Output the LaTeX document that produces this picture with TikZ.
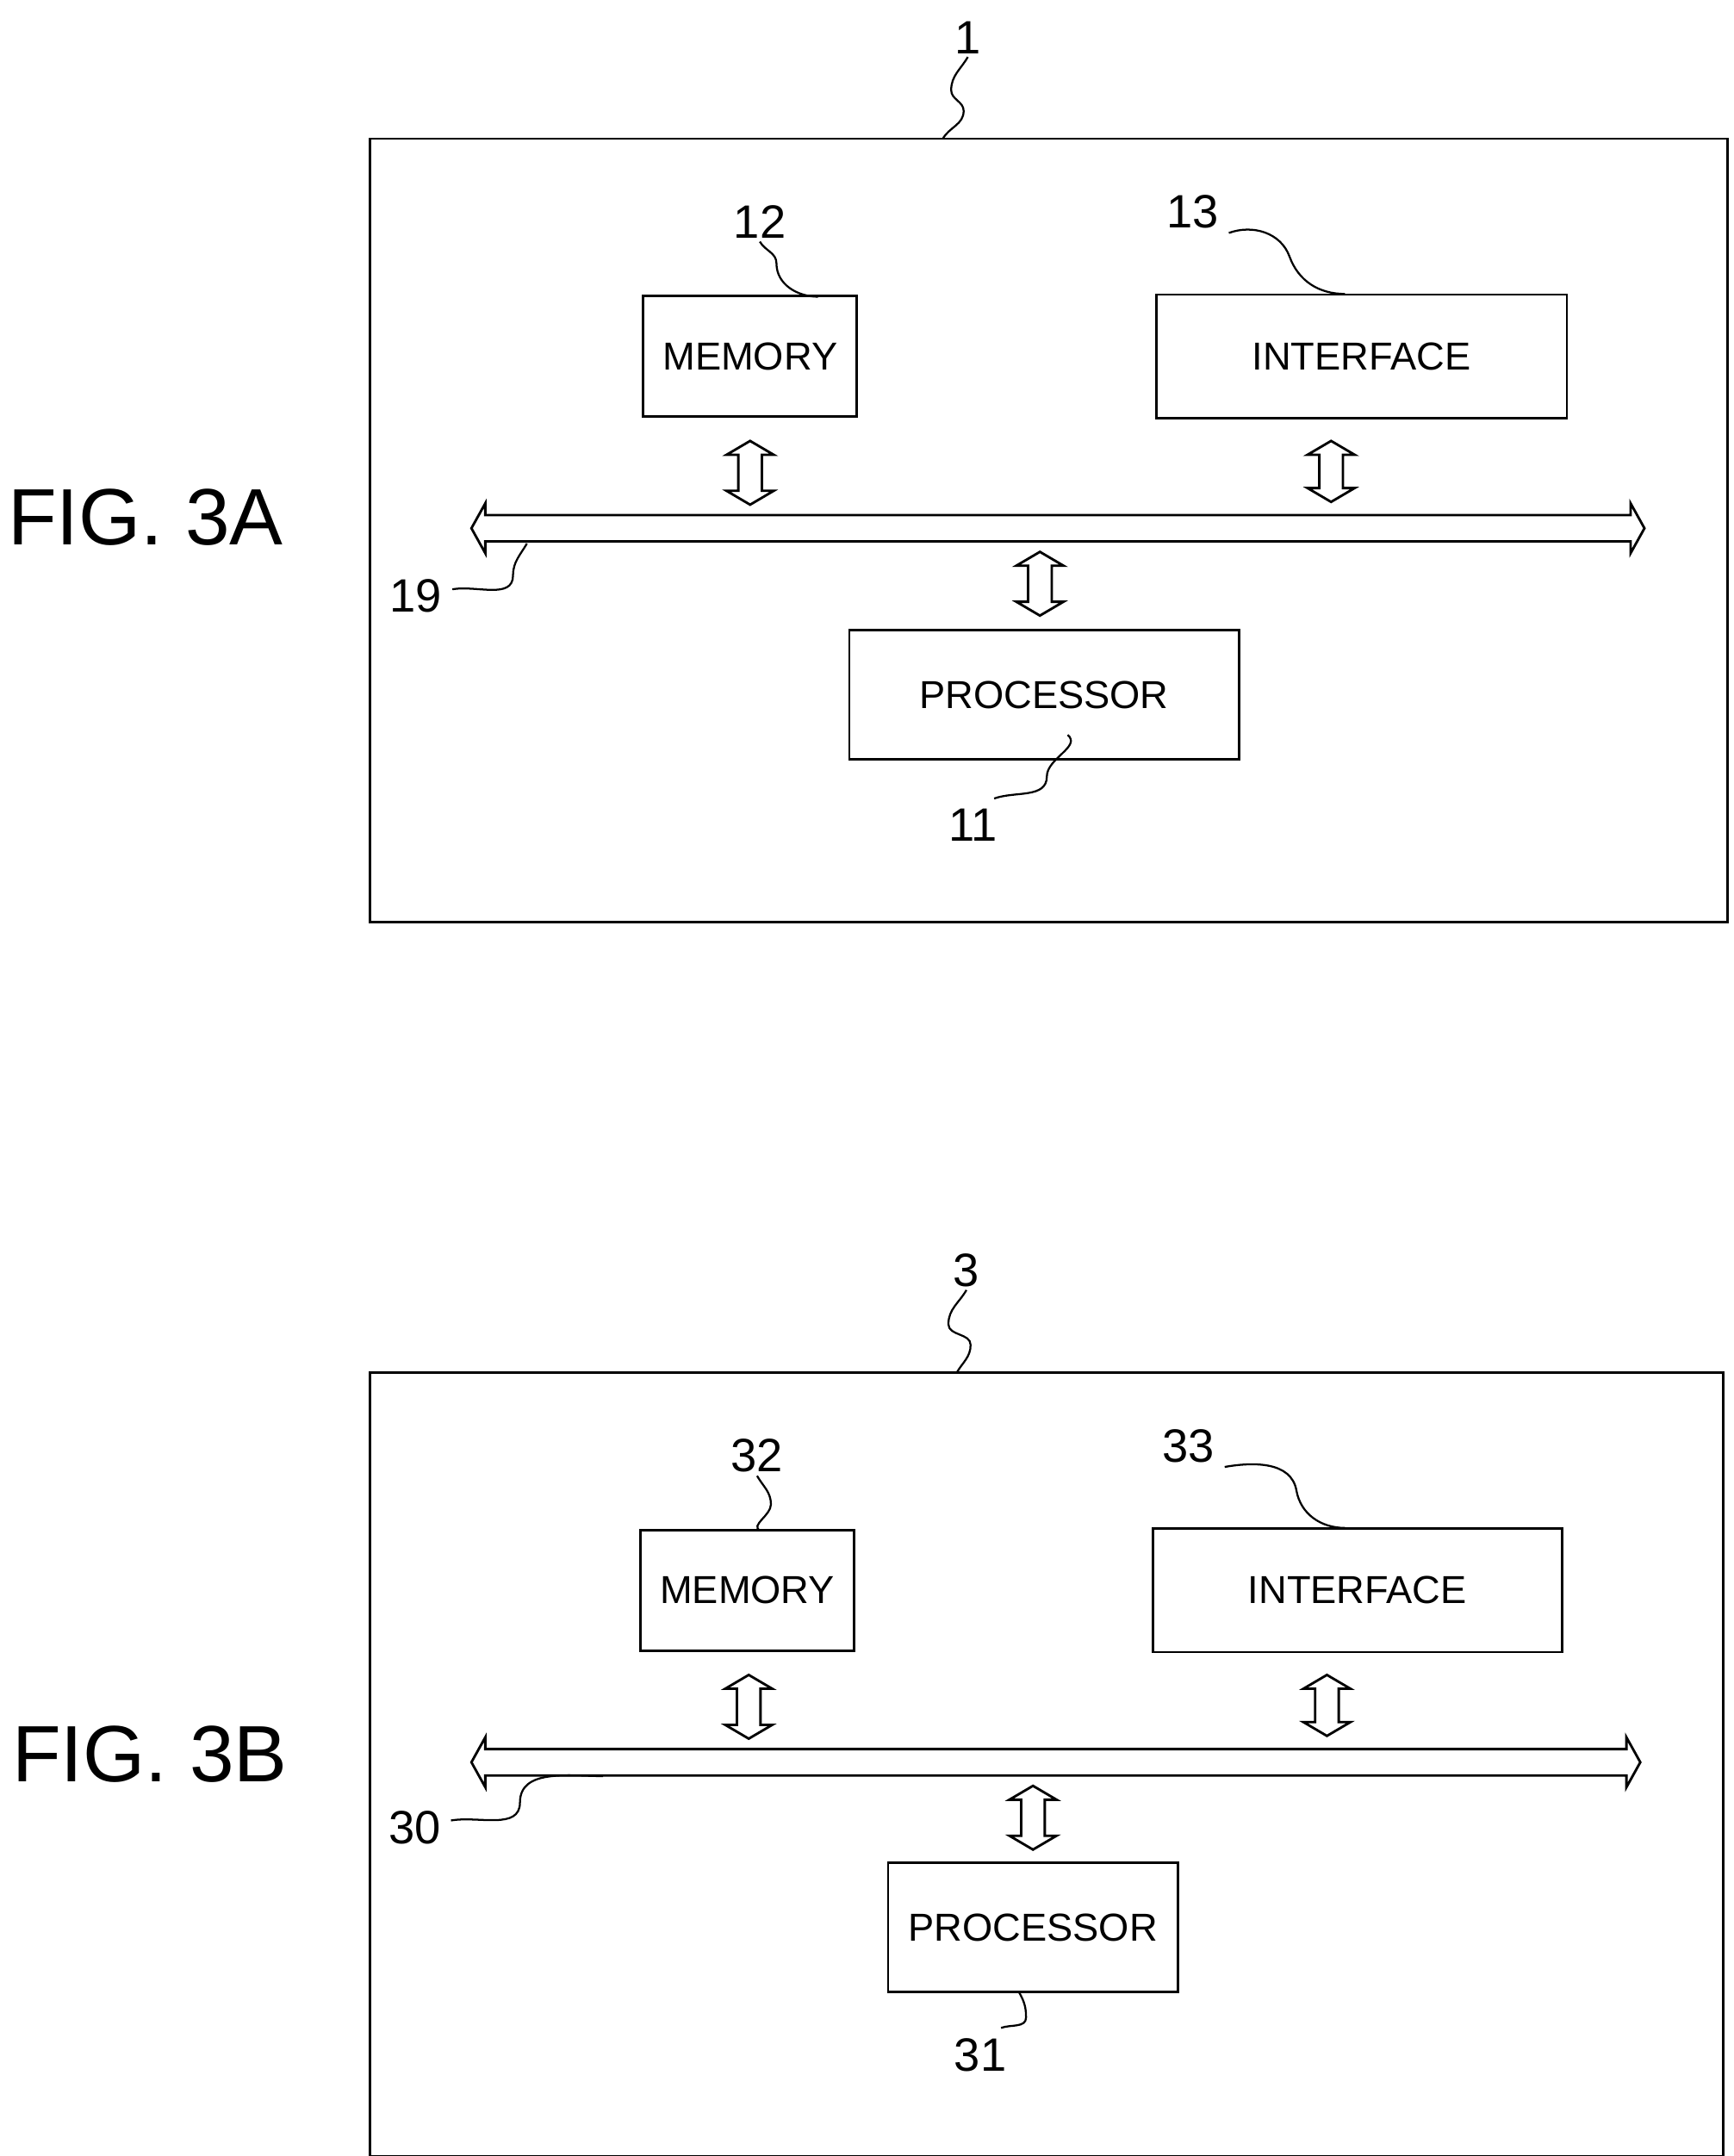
\documentclass[tikz,border=0pt]{standalone}
\usepackage{fontspec}
\setmainfont{Liberation Sans}
\usetikzlibrary{calc}

\tikzset{
  blk/.style={draw,line width=2.5pt,font=\fontsize{40}{48}\selectfont},
  num/.style={font=\fontsize{48}{56}\selectfont},
  fig/.style={font=\fontsize{82}{96}\selectfont},
  lead/.style={line width=2pt},
  hollow/.style={line width=2.5pt,line join=miter}
}
% hollow double arrow, horizontal: from #1 to #2
\newcommand\hbus[2]{%
  \draw[hollow] ($#1$) -- ($#1+(10,-18)$) -- ($#1+(10,-9.5)$) -- ($#2+(-10,-9.5)$)
    -- ($#2+(-10,-18)$) -- ($#2$) -- ($#2+(-10,18)$) -- ($#2+(-10,9.5)$)
    -- ($#1+(10,9.5)$) -- ($#1+(10,18)$) -- cycle;}
% hollow double arrow, vertical: from #1 (top) to #2 (bottom)
\newcommand\vlink[2]{%
  \draw[hollow] ($#1$) -- ($#1+(17,10)$) -- ($#1+(8.5,10)$) -- ($#2+(8.5,-10)$)
    -- ($#2+(17,-10)$) -- ($#2$) -- ($#2+(-17,-10)$) -- ($#2+(-8.5,-10)$)
    -- ($#1+(-8.5,10)$) -- ($#1+(-17,10)$) -- cycle;}

\begin{document}
\begin{tikzpicture}[x=0.05cm,y=-0.05cm]
  \useasboundingbox (0,0) rectangle (1250,1555);

  % FIG. 3A
  \node[fig] (f3a) at (105,373) {FIG. 3A};
  \draw[line width=2.5pt] (267,100) rectangle (1246,665);
  \coordinate (d1) at (680,100);
  \node[num] (n1) at (698,27) {1};
  \draw[lead] (d1) to[out=60,in=-90] (695,80) to[out=90,in=-90] (686,65) to[out=90,in=-120] (n1.south);
  \node[blk,minimum width=154*0.05cm,minimum height=87*0.05cm] (mem1) at (541,257) {MEMORY};
  \node[blk,minimum width=296*0.05cm,minimum height=89*0.05cm] (int1) at (982,257) {INTERFACE};
  \node[blk,minimum width=281*0.05cm,minimum height=93*0.05cm] (pro1) at (753,501) {PROCESSOR};
  \coordinate (b1l) at (340,381);
  \coordinate (b1r) at (1186,381);
  \hbus{(b1l)}{(b1r)}
  \coordinate (m1t) at (541,318); \coordinate (m1b) at (541,364);
  \coordinate (i1t) at (960,318); \coordinate (i1b) at (960,362);
  \coordinate (p1t) at (750,398); \coordinate (p1b) at (750,444);
  \vlink{(m1t)}{(m1b)}
  \vlink{(i1t)}{(i1b)}
  \vlink{(p1t)}{(p1b)}
  \node[num] (n12) at (548,160) {12};
  \draw[lead] (n12.south) to[out=-60,in=90] (560,190) to[out=-90,in=180] (590,214);
  \node[num] (n13) at (860,153) {13};
  \draw[lead] (n13.east) ++(5,15) to[out=20,in=110] (930,185) to[out=-70,in=180] (970,212);
  \node[num] (n11) at (702,595) {11};
  \draw[lead] (n11.north) ++(15,-5) to[out=20,in=-90] (755,560) to[out=90,in=-40] (770,530);
  \node[num] (n19) at (300,430) {19};
  \draw[lead] (n19.east) ++(5,-5) to[out=10,in=-90] (370,415) to[out=90,in=-120] (380,392);

  % FIG. 3B
  \node[fig] (f3b) at (108,1265) {FIG. 3B};
  \draw[line width=2.5pt] (267,990) rectangle (1243,1555);
  \coordinate (d3) at (690,990);
  \node[num] (n3) at (697,916) {3};
  \draw[lead] (d3) to[out=60,in=-90] (700,970) to[out=90,in=-90] (684,955) to[out=90,in=-120] (n3.south);
  \node[blk,minimum width=154*0.05cm,minimum height=87*0.05cm] (mem3) at (539,1147) {MEMORY};
  \node[blk,minimum width=295*0.05cm,minimum height=89*0.05cm] (int3) at (979,1147) {INTERFACE};
  \node[blk,minimum width=209*0.05cm,minimum height=93*0.05cm] (pro3) at (745,1390) {PROCESSOR};
  \coordinate (b3l) at (340,1271);
  \coordinate (b3r) at (1183,1271);
  \hbus{(b3l)}{(b3r)}
  \coordinate (m3t) at (540,1208); \coordinate (m3b) at (540,1254);
  \coordinate (i3t) at (957,1208); \coordinate (i3b) at (957,1252);
  \coordinate (p3t) at (745,1288); \coordinate (p3b) at (745,1334);
  \vlink{(m3t)}{(m3b)}
  \vlink{(i3t)}{(i3b)}
  \vlink{(p3t)}{(p3b)}
  \node[num] (n32) at (546,1050) {32};
  \draw[lead] (n32.south) to[out=-60,in=90] (556,1085) to[out=-90,in=150] (548,1104);
  \node[num] (n33) at (857,1043) {33};
  \draw[lead] (n33.east) ++(5,15) to[out=10,in=100] (935,1075) to[out=-80,in=180] (970,1102);
  \node[num] (n31) at (707,1482) {31};
  \draw[lead] (n31.north) ++(15,-5) to[out=20,in=-90] (740,1455) to[out=90,in=-60] (735,1437);
  \node[num] (n30) at (299,1318) {30};
  \draw[lead] (n30.east) ++(5,-5) to[out=10,in=-90] (375,1300) to[out=90,in=180] (435,1281);
\end{tikzpicture}
\end{document}
